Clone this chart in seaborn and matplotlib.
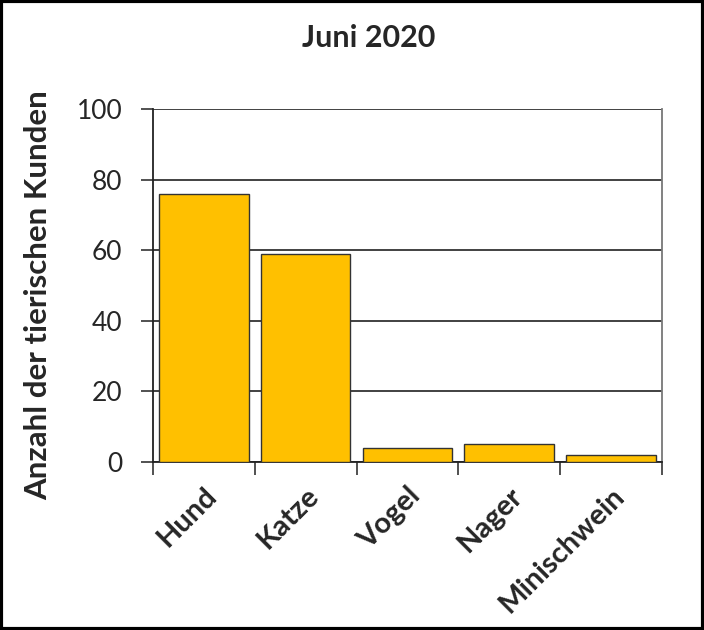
import matplotlib
matplotlib.use("Agg")
import matplotlib.pyplot as plt
import matplotlib.patches as mpatches
import pandas as pd
import seaborn as sns

# Data
tiere = ["Hund", "Katze", "Vogel", "Nager", "Minischwein"]
anzahl = [76, 59, 4, 5, 2]

df = pd.DataFrame({"tier": tiere, "anzahl": anzahl})

sns.set_theme(style="white")
plt.rcParams["font.family"] = ["Lato", "DejaVu Sans"]

fig = plt.figure(figsize=(7.04, 6.3), dpi=100)
ax = fig.add_axes([0.2173, 0.2667, 0.7230, 0.5603])

sns.barplot(data=df, x="tier", y="anzahl", color="#FFC000", saturation=1,
            width=0.88, edgecolor="#333333", linewidth=1.0, ax=ax, zorder=3)

ax.set_ylim(0, 100)
ax.set_xlim(-0.5, len(tiere) - 0.5)
ax.set_yticks([0, 20, 40, 60, 80, 100])
ax.yaxis.grid(True, color="#333333", linewidth=1.3, zorder=0)
ax.set_axisbelow(True)

# ticks between the categories
ax.set_xticks([i + 0.5 for i in range(-1, len(tiere))], minor=True)
ax.tick_params(axis="x", which="major", length=0, pad=15)
ax.tick_params(axis="x", which="minor", length=9, width=1.2, color="#333333",
               direction="out", bottom=True)
ax.tick_params(axis="y", length=9, width=1.2, color="#333333", direction="out",
               left=True, labelsize=19, pad=13)

ax.set_xticklabels(tiere, rotation=45, ha="right", va="top",
                   rotation_mode="anchor", fontsize=21, fontweight="bold")

ax.set_xlabel("")
ax.set_ylabel("")
fig.text(38 / 704, 1 - 295 / 630, "Anzahl der tierischen Kunden",
         rotation=90, ha="center", va="center", fontsize=22.5,
         fontweight="bold")
fig.text(369 / 704, 1 - 38 / 630, "Juni 2020", ha="center", va="center",
         fontsize=22, fontweight="bold")

for side in ["left", "bottom"]:
    ax.spines[side].set_color("#222222")
    ax.spines[side].set_linewidth(1.3)
ax.spines["right"].set_color("#777777")
ax.spines["right"].set_linewidth(1.3)
ax.spines["top"].set_visible(False)

# black frame around the whole picture
fig.patches.append(mpatches.Rectangle((0.002, 0.002), 0.996, 0.996,
                                      transform=fig.transFigure, fill=False,
                                      edgecolor="black", linewidth=3))

fig.savefig("out.png", dpi=100)
